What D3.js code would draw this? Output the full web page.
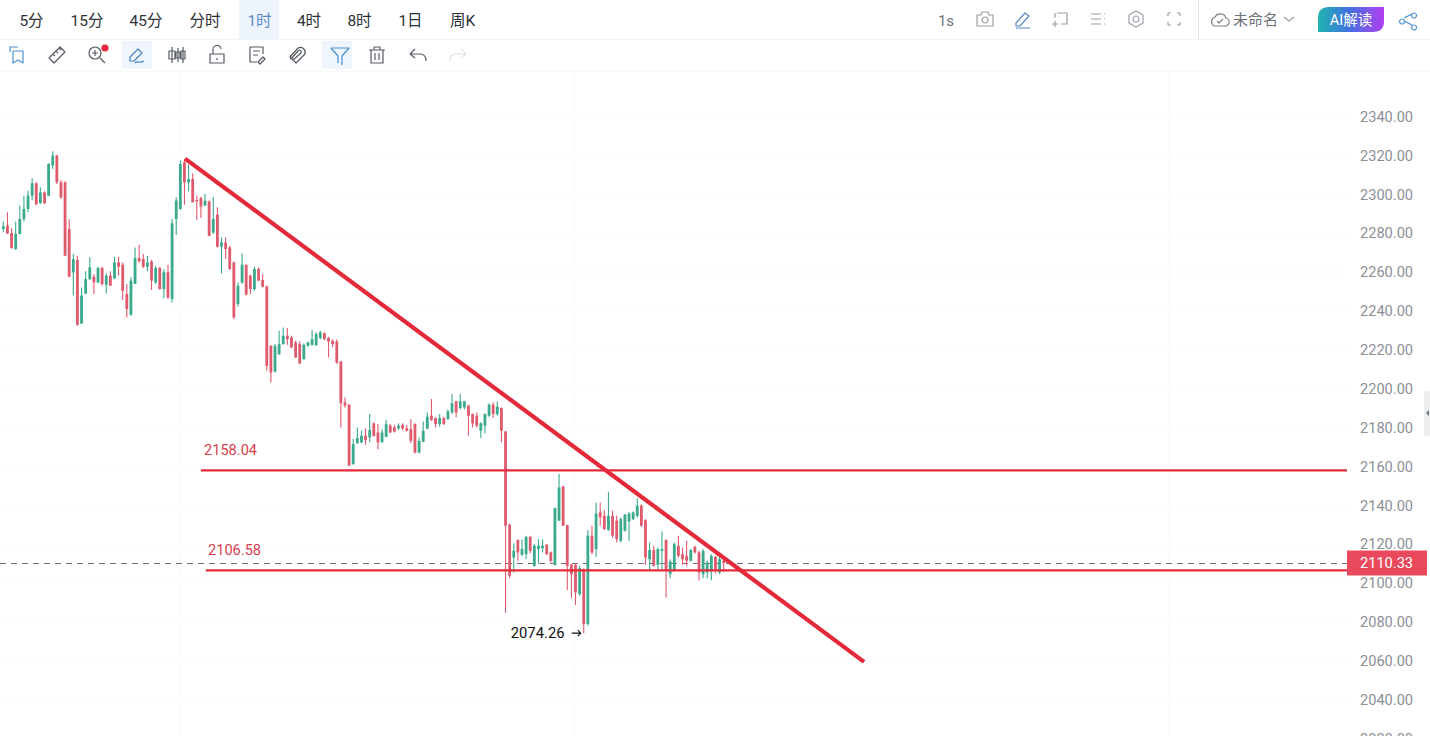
<!DOCTYPE html>
<html><head><meta charset="utf-8">
<style>html,body{margin:0;padding:0;background:#fff;overflow:hidden}svg{display:block}
text{font-family:Roboto,"Noto Sans CJK SC",sans-serif}</style>
<script src="https://cdn.jsdelivr.net/npm/d3@7/dist/d3.min.js"></script></head><body>
<svg id="c" width="1430" height="736"></svg>
<script>
const opens=[2282.2,2283.9,2280.1,2271.9,2279.6,2287.3,2292.5,2299.3,2305.7,2295.5,
2301.0,2299.3,2314.8,2319.9,2306.2,2306.2,2282.2,2259.9,2266.2,2233.6,
2249.0,2256.4,2257.6,2254.7,2262.1,2253.5,2258.2,2256.8,2265.0,2263.8,
2248.7,2238.1,2253.9,2267.2,2266.7,2262.8,2265.5,2254.7,2262.1,2251.3,
2259.9,2246.1,2287.3,2292.5,2316.5,2306.2,2307.9,2297.1,2298.1,2294.2,
2296.4,2280.4,2289.6,2273.1,2275.3,2272.7,2265.0,2243.6,2254.7,2263.8,
2258.2,2251.3,2261.6,2255.9,2252.7,2222.1,2208.9,2217.8,2223.0,2227.3,
2226.4,2223.8,2223.0,2215.2,2222.1,2222.6,2222.5,2226.1,2228.5,2226.1,
2224.7,2224.3,2214.0,2193.0,2191.8,2161.2,2172.0,2172.4,2175.8,2175.0,
2182.2,2177.5,2172.4,2175.3,2181.0,2180.1,2179.6,2181.3,2179.6,2179.2,
2181.8,2167.2,2172.7,2179.6,2186.1,2184.9,2181.8,2184.9,2184.4,2187.8,
2193.5,2190.1,2190.4,2191.3,2187.0,2186.1,2178.4,2181.0,2186.1,2191.8,
2187.0,2190.1,2178.0,2130.0,2113.2,2122.1,2114.6,2114.9,2123.8,2108.9,
2117.5,2118.0,2119.7,2115.8,2109.4,2132.1,2149.6,2129.8,2109.4,2109.4,
2094.3,2107.2,2078.9,2124.4,2117.5,2136.4,2134.6,2127.3,2134.6,2132.1,
2121.8,2126.9,2131.7,2132.9,2134.6,2139.8,2132.4,2112.3,2117.0,2109.4,
2116.6,2122.1,2104.6,2106.3,2119.2,2114.9,2114.0,2111.5,2118.7,2115.8,
2104.6,2105.5,2106.3,2113.5,2105.5,2111.5];
const closes=[2283.5,2279.9,2272.4,2279.6,2287.3,2292.5,2299.3,2305.7,2295.0,2301.0,
2295.5,2315.6,2319.9,2306.2,2298.5,2268.4,2257.6,2266.7,2232.9,2247.9,
2256.4,2262.4,2254.7,2262.1,2253.9,2258.2,2253.0,2265.0,2262.8,2250.4,
2241.0,2255.6,2267.2,2265.5,2262.8,2265.0,2255.6,2262.1,2251.3,2259.9,
2247.0,2285.1,2296.8,2315.6,2306.2,2307.9,2295.9,2296.4,2293.7,2296.8,
2278.7,2287.3,2273.1,2275.3,2271.9,2261.6,2236.7,2253.0,2263.8,2248.4,
2251.3,2261.6,2255.6,2252.5,2211.8,2208.4,2222.1,2223.0,2227.3,2225.5,
2221.3,2216.1,2213.0,2222.6,2223.8,2225.5,2228.1,2229.0,2225.5,2224.3,
2223.0,2213.5,2192.5,2191.3,2160.4,2171.5,2174.6,2175.8,2173.6,2178.7,
2175.8,2172.4,2177.5,2181.8,2177.5,2177.9,2181.0,2179.6,2178.4,2173.2,
2167.2,2173.2,2178.4,2185.6,2183.9,2181.8,2184.9,2181.8,2188.3,2192.5,
2187.8,2193.5,2193.5,2186.1,2182.2,2181.0,2182.2,2187.0,2191.8,2187.0,
2190.8,2178.4,2129.5,2103.8,2116.6,2115.8,2117.5,2123.8,2116.6,2119.2,
2119.2,2119.2,2114.9,2111.5,2138.6,2149.2,2129.5,2108.9,2104.6,2095.2,
2107.7,2078.9,2124.4,2115.8,2135.8,2133.8,2127.8,2134.6,2124.4,2122.6,
2132.9,2135.2,2135.8,2136.4,2139.8,2129.5,2113.2,2117.0,2108.9,2117.5,
2117.5,2106.3,2111.1,2120.1,2114.0,2112.3,2111.5,2117.0,2115.8,2105.5,
2116.6,2110.6,2114.0,2107.2,2112.3,2110.33];
const highs=[2286.0,2290.8,2282.7,2286.0,2294.2,2299.3,2301.9,2308.3,2306.2,2303.6,
2301.6,2316.0,2322.2,2320.4,2307.4,2306.7,2287.3,2269.3,2268.4,2252.1,
2260.4,2267.6,2259.0,2262.8,2262.8,2259.3,2260.4,2267.9,2267.9,2265.0,
2253.9,2257.3,2272.7,2274.1,2269.3,2268.4,2266.2,2263.3,2262.8,2261.6,
2263.8,2287.3,2298.5,2317.4,2318.2,2315.3,2310.8,2299.3,2298.8,2300.2,
2296.8,2298.8,2293.3,2277.9,2277.9,2273.6,2265.5,2254.7,2269.6,2263.8,
2258.6,2262.8,2262.4,2259.0,2253.0,2222.5,2223.0,2229.8,2231.5,2231.2,
2227.3,2224.7,2224.3,2223.3,2224.3,2230.2,2229.0,2229.8,2229.0,2226.7,
2225.5,2225.5,2214.4,2195.5,2192.1,2174.1,2180.1,2178.4,2179.6,2187.0,
2182.7,2181.8,2179.2,2183.9,2181.8,2181.5,2182.2,2182.2,2181.3,2184.4,
2182.2,2174.9,2183.2,2187.8,2194.7,2185.3,2187.0,2185.6,2189.5,2197.3,
2193.8,2197.3,2193.8,2191.8,2187.3,2187.8,2182.7,2187.3,2192.5,2193.0,
2193.5,2190.4,2178.4,2130.7,2120.4,2122.6,2122.6,2124.4,2124.4,2120.1,
2122.6,2122.6,2120.1,2116.3,2138.9,2156.1,2150.1,2130.0,2109.8,2109.8,
2108.9,2107.7,2127.3,2129.5,2141.5,2141.5,2137.6,2146.7,2137.2,2134.6,
2133.8,2135.5,2136.4,2136.9,2143.7,2140.6,2132.9,2120.9,2119.2,2118.3,
2126.6,2122.6,2112.3,2120.9,2124.3,2118.3,2121.8,2117.5,2119.2,2116.6,
2117.5,2111.5,2114.9,2114.0,2114.9,2112.3];
const lows=[2280.5,2279.6,2272.0,2271.4,2279.3,2286.0,2290.8,2296.8,2294.2,2295.0,
2295.0,2299.0,2313.1,2305.3,2297.6,2268.4,2257.3,2247.9,2232.4,2233.3,
2248.7,2255.9,2248.7,2254.2,2253.0,2249.0,2253.0,2256.4,2258.2,2245.6,
2236.7,2237.6,2253.9,2265.0,2262.1,2260.4,2250.8,2253.9,2250.9,2246.5,
2246.1,2244.4,2279.1,2292.1,2294.7,2301.6,2295.9,2286.8,2287.8,2294.2,
2278.4,2279.6,2272.7,2259.3,2266.7,2261.1,2235.8,2242.2,2253.9,2248.0,
2248.7,2250.4,2255.6,2252.1,2209.3,2203.2,2208.4,2217.3,2222.6,2222.6,
2220.9,2215.8,2212.7,2214.9,2221.6,2222.1,2221.9,2225.5,2225.0,2216.1,
2221.3,2212.7,2180.1,2190.4,2160.4,2160.9,2171.5,2172.0,2171.2,2172.4,
2175.3,2168.9,2172.4,2174.9,2177.2,2177.5,2178.7,2178.7,2178.0,2171.9,
2166.7,2166.7,2172.4,2179.2,2183.5,2180.1,2180.5,2181.3,2183.9,2187.0,
2185.3,2189.5,2189.5,2175.8,2180.1,2180.1,2174.6,2177.0,2185.6,2184.9,
2186.1,2172.4,2084.7,2102.6,2105.5,2111.5,2114.0,2112.3,2115.3,2108.4,
2110.1,2115.8,2114.4,2110.6,2108.9,2132.1,2129.5,2096.4,2092.3,2088.7,
2093.5,2074.26,2078.0,2114.9,2113.5,2129.5,2127.3,2126.9,2123.2,2120.9,
2120.9,2126.6,2121.8,2132.4,2133.8,2129.0,2109.4,2106.3,2108.4,2106.3,
2106.3,2092.6,2102.5,2106.0,2113.2,2109.4,2108.9,2111.1,2115.2,2101.2,
2102.5,2102.5,2101.5,2105.0,2104.6,2105.8];
const priceTicks=[2340,2320,2300,2280,2260,2240,2220,2200,2180,2160,2140,2120,2100,2080,2060,2040,2020];
const lastPrice=2110.33, lowPrice=2074.26;
const levels=[{v:2158.04,from:48,lx:204,ly:450},{v:2106.58,from:49.2,lx:208,ly:550}];
const trend=[{i:44.14,p:2318.4},{i:209.1,p:2059.5}];
const periods=["5分","15分","45分","分时","1时","4时","8时","1日","周K"];
const periodX=[31.5,87,146,205,259.5,309,359.5,410.5,462.5];

const UP="#3aa98c",DOWN="#df5a6d",LINE="#e42a3a";
const svg=d3.select("#c");
const x=d3.scaleLinear().domain([0,175]).range([3.33,723.7]);
const y=d3.scaleLinear().domain([2340,2020]).range([116.6,738.6]);
const idx=d3.range(opens.length);

// faint grid
const grid=svg.append("g").attr("stroke","#f9f9fa").attr("stroke-width",1);
priceTicks.forEach(t=>grid.append("line").attr("x1",0).attr("x2",1347).attr("y1",y(t)).attr("y2",y(t)).attr("stroke","#fbfbfc"));
[181,574,1169].forEach(v=>grid.append("line").attr("x1",v).attr("x2",v).attr("y1",72).attr("y2",736));

// axis
const axis=d3.axisRight(y).tickValues(priceTicks).tickSize(0).tickPadding(0).tickFormat(d3.format(".2f"));
const ag=svg.append("g").attr("transform","translate(1360,0)").call(axis);
ag.select(".domain").remove();
ag.selectAll("text").attr("fill","#8b8f97").attr("font-size",14.6).attr("font-family","Roboto");

// last-price dashes
svg.append("line").attr("x1",0).attr("x2",1347).attr("y1",y(lastPrice)).attr("y2",y(lastPrice))
 .attr("stroke","#7d6a6e").attr("stroke-width",1).attr("stroke-dasharray","6 5").attr("shape-rendering","crispEdges");

// candles
const g=svg.append("g");
g.selectAll("line.w").data(idx).join("line").attr("class","w")
 .attr("x1",i=>x(i)).attr("x2",i=>x(i)).attr("y1",i=>y(highs[i])).attr("y2",i=>y(lows[i]))
 .attr("stroke",i=>closes[i]>=opens[i]?UP:DOWN).attr("stroke-width",1.1);
g.selectAll("rect").data(idx).join("rect")
 .attr("x",i=>x(i)-1.4).attr("width",2.8)
 .attr("y",i=>y(Math.max(opens[i],closes[i])))
 .attr("height",i=>Math.max(1,Math.abs(y(opens[i])-y(closes[i]))))
 .attr("fill",i=>closes[i]>=opens[i]?UP:DOWN);

// drawings
const ln=d3.line().x(d=>x(d.i)).y(d=>y(d.p));
svg.append("path").attr("d",ln(trend)).attr("stroke",LINE).attr("stroke-width",4.2).attr("fill","none");
levels.forEach(l=>{
 svg.append("line").attr("x1",x(l.from)).attr("x2",1347).attr("y1",y(l.v)).attr("y2",y(l.v)).attr("stroke",LINE).attr("stroke-width",2.2);
 svg.append("text").attr("x",l.lx).attr("y",l.ly+5).attr("fill","#d9404f").attr("font-size",14.6).text(l.v.toFixed(2));
});

// last-price tag
svg.append("rect").attr("x",1347).attr("y",y(lastPrice)-12.5).attr("width",80).attr("height",25).attr("fill","#e9495c");
svg.append("text").attr("x",1360).attr("y",y(lastPrice)+5.2).attr("fill","#fff").attr("font-size",14.6).text(lastPrice.toFixed(2));

// low marker
const lowI=lows.indexOf(lowPrice);
svg.append("text").attr("x",x(lowI)-73).attr("y",y(lowPrice)+4.4).attr("fill","#111").attr("font-size",14.8).text(lowPrice.toFixed(2));
svg.append("path").attr("d",`M${x(lowI)-12} ${y(lowPrice)}h9m-3 -3l3 3l-3 3`).attr("stroke","#111").attr("fill","none").attr("stroke-width",1.1);

// side handle
svg.append("rect").attr("x",1424).attr("y",391).attr("width",8).attr("height",45).attr("rx",3).attr("fill","#eceef0");
svg.append("path").attr("d","M1429 410l-3 3l3 3z").attr("fill","#70757d");

// toolbars
svg.append("rect").attr("x",0).attr("y",0).attr("width",1430).attr("height",71).attr("fill","#fff").lower();
svg.append("line").attr("x1",0).attr("x2",1430).attr("y1",39.5).attr("y2",39.5).attr("stroke","#f3f4f6");
svg.append("line").attr("x1",0).attr("x2",1430).attr("y1",71).attr("y2",71).attr("stroke","#f1f2f4");
svg.append("line").attr("x1",1198.5).attr("x2",1198.5).attr("y1",0).attr("y2",39).attr("stroke","#e4e6ea");
svg.append("rect").attr("x",239).attr("y",0).attr("width",40).attr("height",39).attr("fill","#edf4fc");
svg.append("rect").attr("x",122).attr("y",41).attr("width",30).attr("height",28).attr("fill","#eef5fc");
svg.append("rect").attr("x",322).attr("y",41).attr("width",30).attr("height",28).attr("fill","#eef5fc");
periods.forEach((p,i)=>svg.append("text").attr("x",periodX[i]).attr("y",25.5).attr("text-anchor","middle")
 .attr("font-size",15.5).attr("fill",p==="1时"?"#5b8ac8":"#2d3036").text(p));
svg.append("text").attr("x",946).attr("y",25.5).attr("text-anchor","middle").attr("font-size",15).attr("fill","#6d7178").text("1s");
svg.append("text").attr("x",1233).attr("y",25).attr("font-size",15).attr("fill","#6d7178").text("未命名");

const icons=[
 [17,55,"#4a90d2","M-7 -3v-5h8M-4 -4h10v12l-5 -3l-5 3z"],
 [57,55,"#555a62","M-8 3L3 -8l5 5L-3 8zM-4 -1l2 2M-1 -4l2 2M2 -7l2 2"],
 [97,55,"#555a62","M-8 -2a6 6 0 1 0 12 0a6 6 0 1 0 -12 0M-2 -5v6M-5 -2h6M3 3l5 5"],
 [137,55,"#4a82c4","M-7 6v-4L1 -6l4 4L-3 6zM-2 8c3 -3 4 1 9 -2"],
 [177,55,"#555a62","M-5 -8v16M-8 -4h6v8h-6zM1 -7v14M-1 -3h4v6h-4zM6 -8v16M4 -4h4v8h-4z"],
 [217,55,"#555a62","M-7 -1h14v9h-14zM-4 -1v-4a4 4 0 0 1 8 -1M0 3v2"],
 [257,55,"#555a62","M6 -1v-7h-13v15h7M-4 -4h7M-4 0h5M1 7l5 -5l2 2l-5 5z"],
 [297,55,"#555a62","M-7 2L1 -7a5 5 0 0 1 7 6L-1 8l-3 -3l8 -7a1 1 0 0 0 -3 -2l-7 8zM-7 2l3 3M-1 8l-3 -3"],
 [340,56,"#4a90d2","M-9 -8h18l-7 8v9M-2 7V0l-7 -8"],
 [377,55,"#555a62","M-6 -5v13h12v-13M-8 -5h16M-3 -5v-3h6v3M-2 -2v7M2 -2v7"],
 [418,55,"#555a62","M-8 -1l5 -5M-8 -1l5 4M-8 -1h10c4 0 6 3 6 7"],
 [458,55,"#dfe1e5","M8 -1l-5 -5M8 -1l-5 4M8 -1h-10c-4 0 -6 3 -6 7"],
 [985,19,"#9a9ea5","M-8 -4h4l1 -3h6l1 3h4v11h-16zM-3 1a3 3 0 1 0 6 0a3 3 0 1 0 -6 0"],
 [1023,19,"#5b8ac8","M-7 4L2 -6l4 3L-3 7h-4zM-7 9h14"],
 [1061,19,"#9a9ea5","M-4 -6h10v11h-6M-6 2v6M-9 5h6M-6 -6v5"],
 [1098,19,"#9a9ea5","M-7 -5h10M-7 0h10M-7 5h10M6 -5h1M6 0h1M6 5h1"],
 [1136,19,"#9a9ea5","M0 -8l7 4v8l-7 4l-7 -4v-8zM-3 0a3 3 0 1 0 6 0a3 3 0 1 0 -6 0"],
 [1174,19,"#9a9ea5","M-6 -6h3M-6 -6v3M6 -6h-3M6 -6v3M-6 6h3M-6 6v-3M6 6h-3M6 6v-3"],
 [1219,20,"#7d828a","M-5 6h10a4 4 0 0 0 2 -8a6 6 0 0 0 -11 -1a5 5 0 0 0 -1 9M-2 1l2 2l4 -4"],
 [1289,19,"#9a9ea5","M-5 -2l5 4l5 -4"],
 [1408,19,"#4a8ed4","M-6 0a2.5 2.5 0 1 0 .1 0M6 -6a2.5 2.5 0 1 0 .1 0M6 6a2.5 2.5 0 1 0 .1 0M-4 -1l8 -4M-4 2l8 4"]
];
svg.selectAll("path.ic").data(icons).join("path").attr("class","ic")
 .attr("transform",d=>`translate(${d[0]},${d[1]})`).attr("d",d=>d[3]).attr("stroke",d=>d[2])
 .attr("fill","none").attr("stroke-width",1.2).attr("stroke-linejoin","round");
svg.append("circle").attr("cx",105).attr("cy",48).attr("r",3.6).attr("fill","#e8283c");

// AI pill
const defs=svg.append("defs");
const gr=defs.append("linearGradient").attr("id","ai");
[["0%","#22b4b0"],["45%","#3d74e0"],["100%","#b23ff0"]].forEach(s=>gr.append("stop").attr("offset",s[0]).attr("stop-color",s[1]));
svg.append("path").attr("d","M1318 32v-14q0 -11 11 -11h55v14q0 11 -11 11z").attr("fill","url(#ai)");
svg.append("text").attr("x",1351).attr("y",25).attr("text-anchor","middle").attr("font-size",14.5).attr("fill","#fff").text("AI解读");
</script></body></html>
